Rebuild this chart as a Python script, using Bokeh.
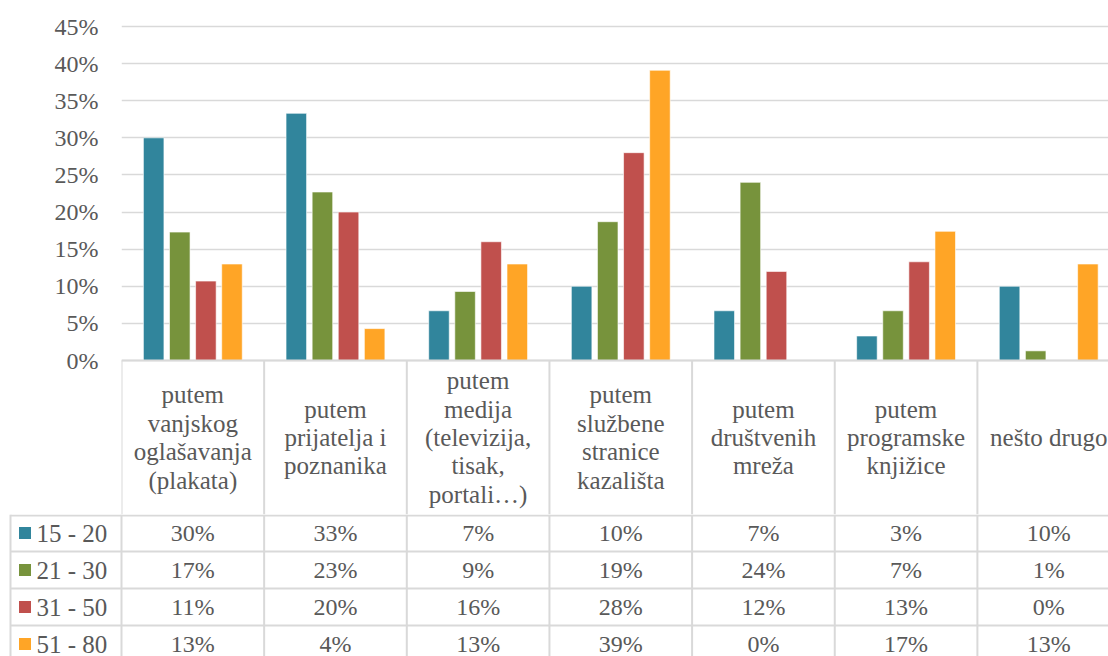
import numpy as np
from bokeh.plotting import figure
from bokeh.layouts import column
from bokeh.models import Range1d, NumeralTickFormatter, FixedTicker, Span, ColumnDataSource
from bokeh.core.properties import value
from bokeh.embed import file_html
from bokeh.resources import INLINE

# ---------------- data ----------------
categories = [
    "putem\nvanjskog\noglašavanja\n(plakata)",
    "putem\nprijatelja i\npoznanika",
    "putem\nmedija\n(televizija,\ntisak,\nportali…)",
    "putem\nslužbene\nstranice\nkazališta",
    "putem\ndruštvenih\nmreža",
    "putem\nprogramske\nknjižice",
    "nešto drugo",
]
series_names = ["15 - 20", "21 - 30", "31 - 50", "51 - 80"]
s15_20 = [30.0, 33.3, 6.7, 10.0, 6.7, 3.3, 10.0]
s21_30 = [17.3, 22.7, 9.3, 18.7, 24.0, 6.7, 1.3]
s31_50 = [10.7, 20.0, 16.0, 28.0, 12.0, 13.3, 0.0]
s51_80 = [13.0, 4.3, 13.0, 39.1, 0.0, 17.4, 13.0]
y_ticks = [0, 5, 10, 15, 20, 25, 30, 35, 40, 45]

series = [s15_20, s21_30, s31_50, s51_80]
colors = ["#31859C", "#77933C", "#C0504D", "#FFA526"]

# ---------------- style / layout ----------------
FONT_NAME = "'Liberation Serif', 'Times New Roman', 'DejaVu Serif', serif"
FONT = value(FONT_NAME)
TXT = "#595959"
GRID = "#d9d9d9"
FS_NUM = "24px"
FS_WORD = "25px"
W = 1108
LEFT = 121
CAT_W = 142.65
FRAME_W = W - LEFT
X_END = FRAME_W / CAT_W
PX_PER = 334 / 0.45          # pixels per unit of share
ZERO_Y = 360                 # page y of the 0% line
HEAD_BOTTOM = 514            # page y of the header row's bottom border
PAD_T = 2 / PX_PER
HEAD_H = (HEAD_BOTTOM - ZERO_Y) / PX_PER
BAR_PITCH = 0.183
BAR_W = 0.144
TOP_MARGIN = 24
TOP_H = HEAD_BOTTOM

n = len(categories)
idx = np.arange(n)
bx = list(range(n))

# ---------------- bar chart + table header ----------------
top = figure(width=W, height=TOP_H, output_backend="svg", toolbar_location=None,
             x_range=Range1d(0, X_END), y_range=Range1d(-HEAD_H, max(y_ticks) / 100 + PAD_T),
             x_axis_location=None, min_border_left=LEFT, min_border_right=0,
             min_border_top=TOP_MARGIN, min_border_bottom=0)
top.frame_align = False
top.outline_line_color = None
top.xgrid.visible = False
top.ygrid.grid_line_color = GRID
top.ygrid.grid_line_width = 1.5
yax = top.yaxis[0]
yax.ticker = FixedTicker(ticks=[t / 100 for t in y_ticks])
yax.formatter = NumeralTickFormatter(format="0%")
yax.axis_line_color = None
yax.major_tick_line_color = None
yax.minor_tick_line_color = None
yax.major_tick_out = 0
yax.major_tick_in = 0
yax.minor_tick_out = 0
yax.minor_tick_in = 0
yax.major_label_standoff = 23
yax.major_label_text_font = FONT_NAME
yax.major_label_text_font_size = FS_NUM
yax.major_label_text_color = TXT

for k, (vals, col) in enumerate(zip(series, colors)):
    src = ColumnDataSource(dict(x=idx + 0.5 + (k - 1.5) * BAR_PITCH,
                                top=np.array(vals) / 100.0))
    top.vbar(x="x", top="top", bottom=0, width=BAR_W, source=src,
             fill_color=col, line_color="white", line_alpha=0.6, line_width=1)

top.add_layout(Span(location=0, dimension="width", line_color=GRID, line_width=2))
top.segment(x0=bx, x1=bx, y0=[-HEAD_H] * n, y1=[0] * n, line_color=GRID, line_width=2)

head_c = -((ZERO_Y + HEAD_BOTTOM) / 2 - ZERO_Y) / PX_PER
top.text(x=list(idx + 0.5), y=[head_c] * n, text=categories,
         text_align="center", text_baseline="middle", text_font=FONT,
         text_font_size=FS_WORD, text_color=TXT, text_line_height=1.05)

# ---------------- data table rows ----------------
TH = 656 - TOP_H
ROW_H = 37
tbl = figure(width=W, height=TH, output_backend="svg", toolbar_location=None,
             x_range=Range1d(-LEFT / CAT_W, X_END), y_range=Range1d(TH, 0),
             x_axis_location=None, y_axis_location=None,
             min_border_left=0, min_border_right=0, min_border_top=0, min_border_bottom=0)
tbl.frame_align = False
tbl.outline_line_color = None
tbl.grid.visible = False

leg_left = (10 - LEFT) / CAT_W
row_lines = [1] + [i * ROW_H for i in range(1, len(series) + 1)]
tbl.segment(x0=[leg_left] * len(row_lines), x1=[X_END] * len(row_lines),
            y0=row_lines, y1=row_lines, line_color=GRID, line_width=2)
tbl.segment(x0=bx + [leg_left], x1=bx + [leg_left], y0=[0] * (n + 1), y1=[TH] * (n + 1),
            line_color=GRID, line_width=2)

row_c = [ROW_H / 2 + i * ROW_H for i in range(len(series))]
tbl.scatter(x=[(24.5 - LEFT) / CAT_W] * len(series), y=row_c, marker="square",
            size=12, fill_color=colors, line_color=None)
tbl.text(x=[(36 - LEFT) / CAT_W] * len(series), y=row_c, text=series_names,
         text_align="left", text_baseline="middle", text_font=FONT,
         text_font_size=FS_WORD, text_color=TXT)

xs, ys, labels = [], [], []
for k, vals in enumerate(series):
    for i, v in enumerate(vals):
        xs.append(i + 0.5)
        ys.append(row_c[k])
        labels.append(f"{round(v):.0f}%")
tbl.text(x=xs, y=ys, text=labels, text_align="center", text_baseline="middle",
         text_font=FONT, text_font_size=FS_NUM, text_color=TXT)

layout = column(top, tbl, spacing=0)
open("out.html", "w").write(file_html(layout, INLINE))
